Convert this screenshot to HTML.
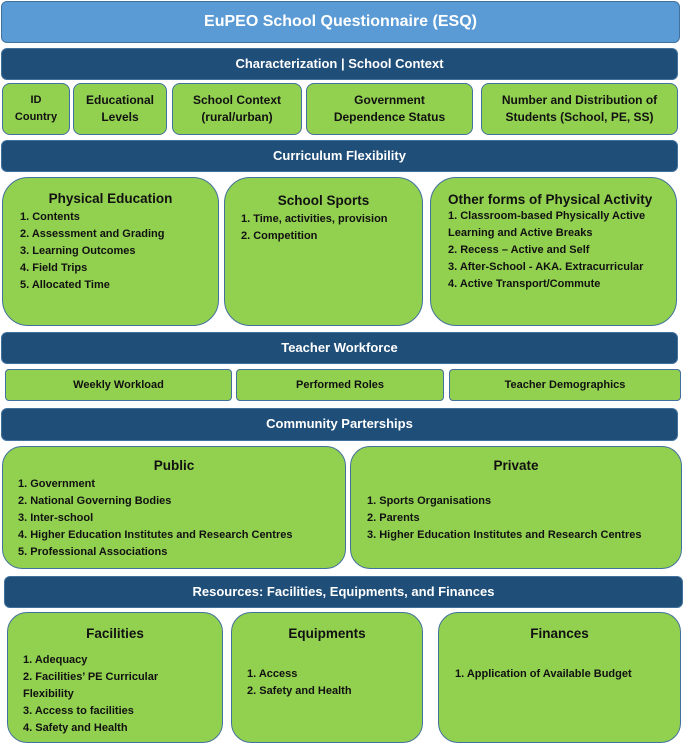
<!DOCTYPE html>
<html><head><meta charset="utf-8"><style>
*{margin:0;padding:0;box-sizing:border-box}
body{width:687px;height:751px;background:#fff;position:relative;overflow:hidden;font-family:"Liberation Sans",Arial,sans-serif;font-weight:bold}
.b{position:absolute;border:1.5px solid #41719c}
.t{background:#5b9bd5;color:#fff;border-radius:6px;font-size:16px;text-align:center;line-height:40px}
.d{background:#1f4e79;color:#fff;border-radius:6px;font-size:13px;text-align:center;line-height:30px}
.g{background:#92d050;color:#111;font-size:11px}
.c{display:flex;align-items:center;justify-content:center;text-align:center;border-radius:8px;line-height:17px;font-size:12px}
.r{border-radius:26px}
.h{font-size:13.5px;text-align:center;margin-bottom:3px}
ul{list-style:none;line-height:17px}
</style></head><body>
<div class="b t" style="left:1px;top:1px;width:679px;height:42px">EuPEO School Questionnaire (ESQ)</div>
<div class="b d" style="left:1px;top:48px;width:677px;height:32px">Characterization | School Context</div>
<div class="b g c" style="left:2px;top:83px;width:68px;height:52px;font-size:11px">ID<br>Country</div>
<div class="b g c" style="left:73px;top:83px;width:94px;height:52px">Educational<br>Levels</div>
<div class="b g c" style="left:172px;top:83px;width:130px;height:52px">School Context<br>(rural/urban)</div>
<div class="b g c" style="left:306px;top:83px;width:167px;height:52px">Government<br>Dependence Status</div>
<div class="b g c" style="left:481px;top:83px;width:197px;height:52px">Number and Distribution of<br>Students (School, PE, SS)</div>
<div class="b d" style="left:1px;top:140px;width:677px;height:32px">Curriculum Flexibility</div>
<div class="b g r" style="left:2px;top:177px;width:217px;height:149px;padding:13px 0 0 17px"><div class="h" style="margin-left:-17px">Physical Education</div><ul><li>1. Contents</li><li>2. Assessment and Grading</li><li>3. Learning Outcomes</li><li>4. Field Trips</li><li>5. Allocated Time</li></ul></div>
<div class="b g r" style="left:224px;top:177px;width:199px;height:149px;padding:15px 0 0 16px"><div class="h" style="margin-left:-16px">School Sports</div><ul><li>1. Time, activities, provision</li><li>2. Competition</li></ul></div>
<div class="b g r" style="left:430px;top:177px;width:247px;height:149px;padding:14px 0 0 17px"><div class="h" style="text-align:left;margin-bottom:1px">Other forms of Physical Activity</div><ul><li>1. Classroom-based Physically Active</li><li>Learning and Active Breaks</li><li>2. Recess – Active and Self</li><li>3. After-School - AKA. Extracurricular</li><li>4. Active Transport/Commute</li></ul></div>
<div class="b d" style="left:1px;top:332px;width:677px;height:32px">Teacher Workforce</div>
<div class="b g c" style="left:5px;top:369px;width:227px;height:32px;border-radius:4px;font-size:11px">Weekly Workload</div>
<div class="b g c" style="left:236px;top:369px;width:208px;height:32px;border-radius:4px;font-size:11px">Performed Roles</div>
<div class="b g c" style="left:449px;top:369px;width:232px;height:32px;border-radius:4px;font-size:11px">Teacher Demographics</div>
<div class="b d" style="left:1px;top:408px;width:677px;height:33px">Community Parterships</div>
<div class="b g r" style="left:2px;top:446px;width:344px;height:123px;padding:11px 0 0 15px;border-radius:20px"><div class="h" style="margin-left:-15px">Public</div><ul><li>1. Government</li><li>2. National Governing Bodies</li><li>3. Inter-school</li><li>4. Higher Education Institutes and Research Centres</li><li>5. Professional Associations</li></ul></div>
<div class="b g r" style="left:350px;top:446px;width:332px;height:123px;padding:11px 0 0 16px;border-radius:20px"><div class="h" style="margin-left:-16px;margin-bottom:20px">Private</div><ul><li>1. Sports Organisations</li><li>2. Parents</li><li>3. Higher Education Institutes and Research Centres</li></ul></div>
<div class="b d" style="left:4px;top:576px;width:679px;height:32px">Resources: Facilities, Equipments, and Finances</div>
<div class="b g r" style="left:7px;top:612px;width:216px;height:131px;padding:13px 0 0 15px;border-radius:20px"><div class="h" style="margin-left:-15px;margin-bottom:11px">Facilities</div><ul><li>1. Adequacy</li><li>2. Facilities’ PE Curricular</li><li>Flexibility</li><li>3. Access to facilities</li><li>4. Safety and Health</li></ul></div>
<div class="b g r" style="left:231px;top:612px;width:192px;height:131px;padding:13px 0 0 15px;border-radius:20px"><div class="h" style="margin-left:-15px;margin-bottom:25px">Equipments</div><ul><li>1. Access</li><li>2. Safety and Health</li></ul></div>
<div class="b g r" style="left:438px;top:612px;width:243px;height:131px;padding:13px 0 0 16px;border-radius:20px"><div class="h" style="margin-left:-16px;margin-bottom:25px">Finances</div><ul><li>1. Application of Available Budget</li></ul></div>
</body></html>
